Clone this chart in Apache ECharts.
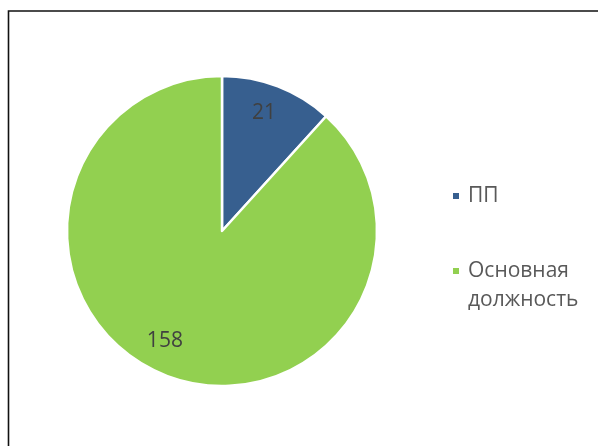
<!DOCTYPE html>
<html>
<head>
<meta charset="utf-8">
<script src="https://cdn.jsdelivr.net/npm/echarts@6/dist/echarts.min.js"></script>
<style>
html,body{margin:0;padding:0;background:#fff;}
#main{width:598px;height:446px;}
</style>
</head>
<body>
<div id="main"></div>
<script>
const categories = ['ПП', 'Основная должность'];
const values = [21, 158];
const colors = ['#375F8F', '#92D050'];
// small label nudges (pixels) to mimic the original label placement
const labelNudge = [[-4, 1], [-11, -9]];

const data = categories.map((c, i) => ({ name: c, value: values[i], itemStyle: { color: colors[i] } }));
const chart = echarts.init(document.getElementById('main'));
chart.setOption({
  animation: false,
  graphic: [{
    type: 'rect', silent: true,
    shape: { x: 8.5, y: 11, width: 700, height: 600 },
    style: { fill: 'none', stroke: '#111', lineWidth: 1.6 }
  }],
  legend: {
    orient: 'vertical',
    left: 446,
    top: 176.5,
    itemGap: 17,
    icon: 'rect',
    itemWidth: 8,
    itemHeight: 8,
    textStyle: {
      fontFamily: 'Open Sans', fontSize: 21, color: '#595959', lineHeight: 29,
      rich: { t: { fontFamily: 'Open Sans', fontSize: 21, color: '#595959', lineHeight: 29, padding: [0, 0, 0, 3] } }
    },
    formatter: n => n === 'Основная должность' ? '\n{t|Основная}\n{t|должность}' : '{t|' + n + '}',
    data: categories
  },
  series: [{
    type: 'pie',
    center: [222, 231],
    radius: 155,
    startAngle: 90,
    clockwise: true,
    label: { show: false },
    labelLine: { show: false },
    emphasis: { disabled: true },
    itemStyle: { borderColor: '#fff', borderWidth: 2.5 },
    data: data
  }, {
    type: 'pie',
    center: [222, 231],
    radius: [95, 155],
    startAngle: 90,
    clockwise: true,
    silent: true,
    legendHoverLink: false,
    itemStyle: { color: 'rgba(0,0,0,0)' },
    label: { show: true, position: 'inside', fontFamily: 'Open Sans', fontSize: 21, color: '#404040', formatter: '{c}' },
    labelLine: { show: false },
    emphasis: { disabled: true },
    data: categories.map((c, i) => ({ name: c + ' ', value: values[i], label: { offset: labelNudge[i] } }))
  }]
});
</script>
</body>
</html>
